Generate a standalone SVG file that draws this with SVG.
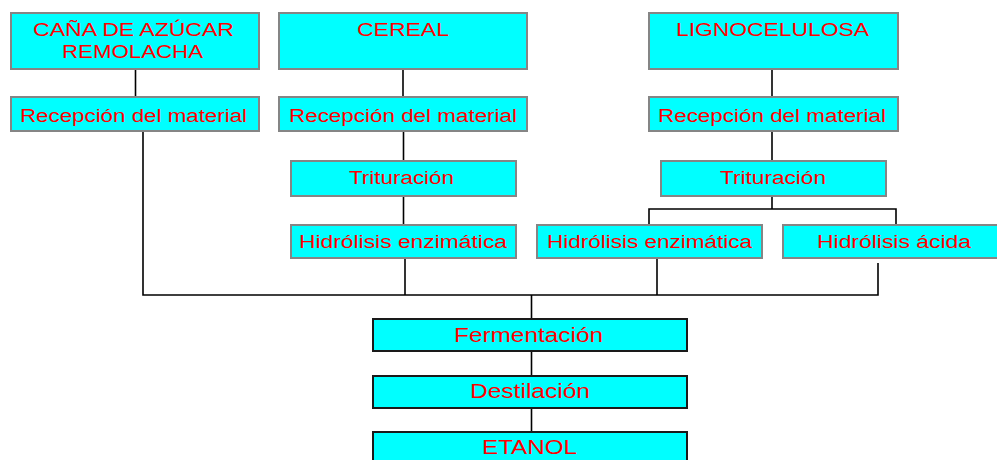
<svg xmlns="http://www.w3.org/2000/svg" width="997" height="460" viewBox="0 0 997 460">
<style>
.b{fill:#00ffff;stroke:#858585;stroke-width:2}
.d{fill:#00ffff;stroke:#1a1a1a;stroke-width:2}
.t{font-family:"Liberation Sans",Arial,sans-serif;font-size:18px;fill:#ff0000;text-anchor:middle}
.tl{font-family:"Liberation Sans",Arial,sans-serif;font-size:20.5px;fill:#ff0000;text-anchor:middle}
.c{stroke:#000;stroke-width:1.6;fill:none}
</style>
<rect width="997" height="460" fill="#fff"/>
<g id="connectors">
<path class="c" d="M135.5 69V97"/>
<path class="c" d="M403 69V97"/>
<path class="c" d="M772 69V97"/>
<path class="c" d="M403.5 131V161"/>
<path class="c" d="M403.5 196V225"/>
<path class="c" d="M772 131V161"/>
<path class="c" d="M772 196V209M649 225V209H896V225"/>
<path class="c" d="M143 131V295H878V263"/>
<path class="c" d="M405 258V295"/>
<path class="c" d="M657 258V295"/>
<path class="c" d="M531.5 295V319"/>
<path class="c" d="M531.5 351V376"/>
<path class="c" d="M531.5 408V432"/>
</g>
<g id="n_cana"><rect class="b" x="11" y="13" width="248" height="56"/>
<text class="t" x="133.5" y="36" textLength="201" lengthAdjust="spacingAndGlyphs">CAÑA DE AZÚCAR</text>
<text class="t" x="132.5" y="58" textLength="141" lengthAdjust="spacingAndGlyphs">REMOLACHA</text></g>
<g id="n_cereal"><rect class="b" x="279" y="13" width="248" height="56"/>
<text class="t" x="403" y="36" textLength="92" lengthAdjust="spacingAndGlyphs">CEREAL</text></g>
<g id="n_ligno"><rect class="b" x="649" y="13" width="249" height="56"/>
<text class="t" x="772.5" y="36" textLength="193" lengthAdjust="spacingAndGlyphs">LIGNOCELULOSA</text></g>
<g id="n_rec1"><rect class="b" x="11" y="97" width="248" height="34"/>
<text class="t" x="133.5" y="122" textLength="227" lengthAdjust="spacingAndGlyphs">Recepción del material</text></g>
<g id="n_rec2"><rect class="b" x="279" y="97" width="248" height="34"/>
<text class="t" x="403" y="122" textLength="228" lengthAdjust="spacingAndGlyphs">Recepción del material</text></g>
<g id="n_rec3"><rect class="b" x="649" y="97" width="249" height="34"/>
<text class="t" x="772" y="122" textLength="228" lengthAdjust="spacingAndGlyphs">Recepción del material</text></g>
<g id="n_trit2"><rect class="b" x="291" y="161" width="225" height="35"/>
<text class="t" x="401.5" y="184" textLength="105" lengthAdjust="spacingAndGlyphs">Trituración</text></g>
<g id="n_trit3"><rect class="b" x="661" y="161" width="225" height="35"/>
<text class="t" x="773" y="184" textLength="106" lengthAdjust="spacingAndGlyphs">Trituración</text></g>
<g id="n_hid2"><rect class="b" x="291" y="225" width="225" height="33"/>
<text class="t" x="403" y="248" textLength="208" lengthAdjust="spacingAndGlyphs">Hidrólisis enzimática</text></g>
<g id="n_hid3"><rect class="b" x="537" y="225" width="225" height="33"/>
<text class="t" x="649.5" y="248" textLength="205" lengthAdjust="spacingAndGlyphs">Hidrólisis enzimática</text></g>
<g id="n_acida"><rect class="b" x="783" y="225" width="220" height="33"/>
<text class="t" x="894" y="248" textLength="154" lengthAdjust="spacingAndGlyphs">Hidrólisis ácida</text></g>
<g id="n_ferm"><rect class="d" x="373" y="319" width="314" height="32"/>
<text class="tl" x="528.5" y="342" textLength="149" lengthAdjust="spacingAndGlyphs">Fermentación</text></g>
<g id="n_dest"><rect class="d" x="373" y="376" width="314" height="32"/>
<text class="tl" x="530" y="398" textLength="120" lengthAdjust="spacingAndGlyphs">Destilación</text></g>
<g id="n_etanol"><rect class="d" x="373" y="432" width="314" height="40"/>
<text class="tl" x="529.5" y="454" textLength="95" lengthAdjust="spacingAndGlyphs">ETANOL</text></g>
</svg>
